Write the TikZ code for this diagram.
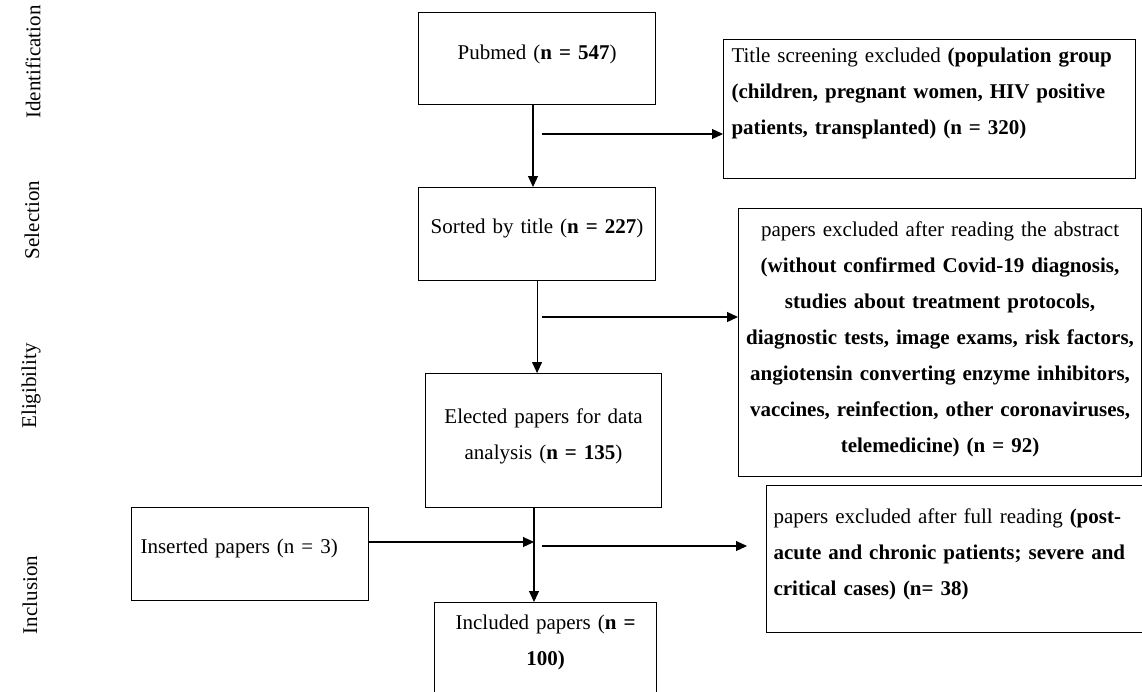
\documentclass[tikz,border=0pt]{standalone}
\usepackage{fontspec}
\setmainfont{Liberation Serif}
\usepackage{tikz}
\usetikzlibrary{arrows.meta}

% justified line of fixed width
\newcommand{\jline}[2]{\makebox[#1][s]{#2}}

\tikzset{
  every node/.style={font=\fontsize{21}{36}\selectfont},
  box/.style={draw, line width=1.1pt, anchor=north west, inner ysep=0pt, inner xsep=4pt},
  phase/.style={rotate=90, anchor=center},
  arr/.style={line width=1.1pt, -{Triangle[length=11pt,width=10pt]}}
}

\begin{document}
\begin{tikzpicture}[x=1pt,y=-1pt]
\useasboundingbox (0,0) rectangle (1142,691);

% phases
\node[phase] (idlab) at (33,62) {Identification};
\node[phase] (sellab) at (32,220) {Selection};
\node[phase] (eliglab) at (31,386) {Eligibility};
\node[phase] (inclab) at (30,595) {Inclusion};

% main column
\node[box, text width=229pt, align=center, text height=47pt, text depth=45pt] (pubmed) at (418,12)
  {Pubmed (\textbf{n = 547})};
\node[box, text width=229pt, align=center, text height=46pt, text depth=47pt] (sorted) at (418,187)
  {Sorted by title (\textbf{n = 227})};
\node[box, text width=228pt, align=center, text height=50pt, text depth=84pt] (elected) at (425,373)
  {Elected papers for data\\analysis (\textbf{n = 135})};
\node[box, text width=214pt, align=center, text height=27pt, text depth=83pt] (included) at (434,602)
  {Included papers (\textbf{n =}\\\textbf{100)}};
\node[box, inner xsep=9pt, text width=219pt, align=left, text height=46pt, text depth=47pt] (inserted) at (131,507)
  {Inserted papers (n = 3)};

% excluded
\node[box, inner xsep=8pt, text width=396pt, align=left, text height=23pt, text depth=116pt] (title) at (723,39)
  {\jline{394pt}{Title screening excluded \textbf{(population group}}\\
   \jline{394pt}{\textbf{(children, pregnant women, HIV positive}}\\
   \textbf{patients, transplanted) (n = 320)}};
\node[box, text width=395pt, align=center, text height=28pt, text depth=240pt] (abstract) at (738,208)
  {papers excluded after reading the abstract\\
   \textbf{(without confirmed Covid-19 diagnosis,}\\
   \textbf{studies about treatment protocols,}\\
   \textbf{diagnostic tests, image exams, risk factors,}\\
   \textbf{angiotensin converting enzyme inhibitors,}\\
   \textbf{vaccines, reinfection, other coronaviruses,}\\
   \textbf{telemedicine) (n = 92)}};
\node[box, inner xsep=7pt, text width=390pt, align=left, text height=38pt, text depth=109pt] (fullread) at (766,485)
  {\jline{355pt}{papers excluded after full reading \textbf{(post-}}\\
   \jline{355pt}{\textbf{acute and chronic patients; severe and}}\\
   \textbf{critical cases) (n= 38)}};

\coordinate (b1) at (542,134);
\coordinate (b2) at (542,317);
\coordinate (j) at (534,542);
\coordinate (b3) at (542,546);
\coordinate (e3) at (747,546);
\coordinate (v1) at (533,0);

% arrows
\draw[arr] (pubmed.south -| v1) -- (sorted.north -| v1);
\draw[arr] (b1) -- (b1 -| title.west);
\draw[arr] (sorted.south) -- (sorted.south |- elected.north);
\draw[arr] (b2) -- (b2 -| abstract.west);
\draw[arr] (inserted.east |- j) -- (j);
\draw[arr] (elected.south -| j) -- (included.north -| j);
\draw[arr] (b3) -- (e3);
\end{tikzpicture}
\end{document}
